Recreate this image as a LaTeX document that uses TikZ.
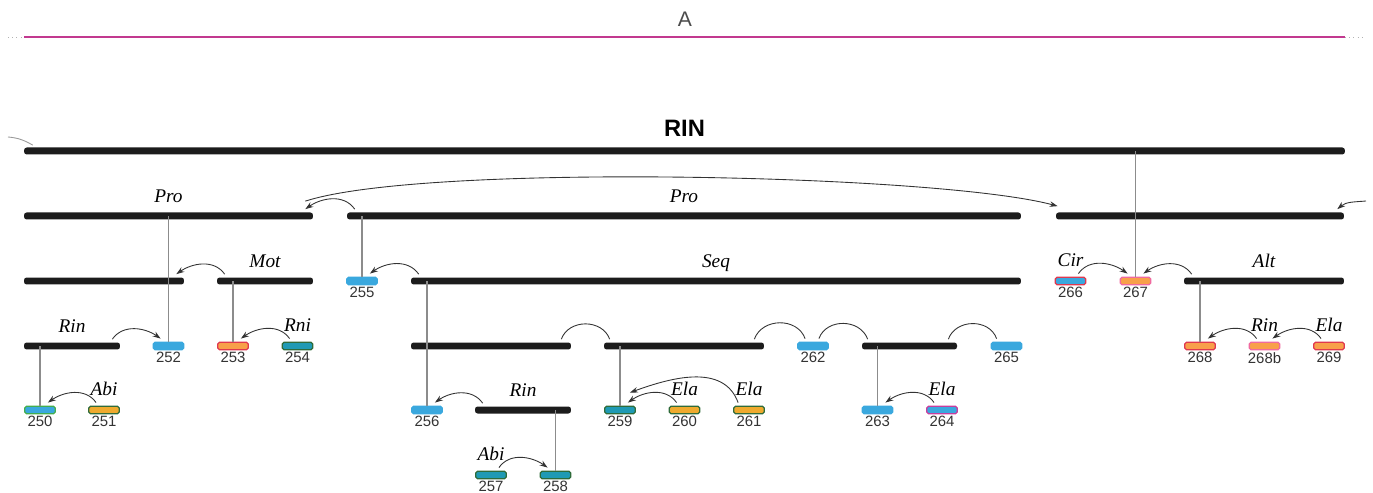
\documentclass[tikz,border=0pt]{standalone}
\usepackage{fontspec}
\setmainfont{Liberation Serif}
\setsansfont{Liberation Sans}
\usepackage{tikz}
\usetikzlibrary{arrows.meta}
\usepackage{xcolor}

\definecolor{barc}{HTML}{1C1C1C}
\definecolor{skyb}{HTML}{3AA8DE}
\definecolor{gold}{HTML}{EFAA2E}
\definecolor{orng}{HTML}{F8A04A}
\definecolor{tealb}{HTML}{1F9AB4}
\definecolor{grn}{HTML}{43AD4E}
\definecolor{dgrn}{HTML}{2F6B3A}
\definecolor{redb}{HTML}{E0384F}
\definecolor{pnkb}{HTML}{F06AA0}
\definecolor{magb}{HTML}{C83D9E}
\definecolor{secl}{HTML}{C2398F}

\begin{document}
\begin{tikzpicture}[x=0.02cm,y=0.02cm,>={Stealth[length=1.6mm,width=1.1mm]},
  label distance=0pt,
  bar/.style={fill=barc,inner sep=0pt,minimum height=0.14cm,rounded corners=1.5pt},
  box/.style={rounded corners=1pt,inner sep=0pt,minimum width=0.61cm,minimum height=0.15cm,line width=0.75pt},
  lab/.style={font=\itshape\fontsize{11}{13}\selectfont,inner sep=5.5pt,text depth=0pt},
  num/.style={font=\sffamily\fontsize{8.5}{10}\selectfont,text=black!80,inner sep=1pt},
  arc/.style={draw=black!80,line width=0.5pt},
  hopw/.style={arc,->,out=125,in=35},
  hope/.style={arc,->,out=55,in=145},
  hump/.style={arc,out=70,in=110,looseness=1.15},
  stem/.style={draw=black!45,line width=0.6pt}]
\useasboundingbox (0,0) rectangle (1373,-493);

% section header
\node[font=\sffamily\fontsize{12}{14}\selectfont,text=black!70] (sec) at (685,-19) {A};
\draw[secl,line width=1.4pt] (24,-37) -- (1345,-37);
\draw[black!30,dotted] (8,-37) -- (24,-37) (1345,-37) -- (1366,-37);

% bars
\node[bar,minimum width=26.42cm,label={[font=\sffamily\bfseries\fontsize{13.5}{16}\selectfont,inner sep=6pt]above:RIN}] (rin) at (684.5,-151) {};
\node[bar,minimum width=5.78cm,label={[lab]above:Pro}] (pro1) at (168.5,-216) {};
\node[bar,minimum width=13.48cm,label={[lab]above:Pro}] (pro2) at (684,-216) {};
\node[bar,minimum width=5.76cm] (pro3) at (1200,-216) {};
\node[bar,minimum width=3.2cm] (lft) at (104,-281) {};
\node[bar,minimum width=1.92cm,label={[lab]above:Mot}] (mot) at (265,-281) {};
\node[bar,minimum width=12.2cm,label={[lab]above:Seq}] (seq) at (716,-281) {};
\node[bar,minimum width=3.2cm,label={[lab]above:Alt}] (alt) at (1264,-281) {};
\node[bar,minimum width=1.92cm,label={[lab]above:Rin}] (rin2) at (72,-346) {};
\node[bar,minimum width=3.2cm] (s1) at (491,-346) {};
\node[bar,minimum width=3.2cm] (s2) at (684,-346) {};
\node[bar,minimum width=1.9cm] (s3) at (909.5,-346) {};
\node[bar,minimum width=1.92cm,label={[lab]above:Rin}] (rin3) at (523,-410) {};

% boxes
\node[box,fill=skyb,draw=skyb,label={[num]below:255}] (b255) at (362,-281) {};
\node[box,fill=skyb,draw=redb,label={[num]below:266},label={[lab]above:Cir}] (b266) at (1070.5,-281) {};
\node[box,fill=orng,draw=pnkb,label={[num]below:267}] (b267) at (1135.5,-281) {};
\node[box,fill=skyb,draw=skyb,label={[num]below:252}] (b252) at (168.5,-346) {};
\node[box,fill=orng,draw=redb,label={[num]below:253}] (b253) at (233,-346) {};
\node[box,fill=tealb,draw=dgrn,label={[num]below:254},label={[lab]above:Rni}] (b254) at (297.5,-346) {};
\node[box,fill=skyb,draw=skyb,label={[num]below:262}] (b262) at (813,-346) {};
\node[box,fill=skyb,draw=skyb,label={[num]below:265}] (b265) at (1006.5,-346) {};
\node[box,fill=orng,draw=redb,label={[num]below:268}] (b268) at (1200,-346) {};
\node[box,fill=orng,draw=pnkb,label={[num]below:268b},label={[lab]above:Rin}] (b268b) at (1264.5,-346) {};
\node[box,fill=orng,draw=redb,label={[num]below:269},label={[lab]above:Ela}] (b269) at (1329,-346) {};
\node[box,fill=skyb,draw=grn,label={[num]below:250}] (b250) at (40,-410) {};
\node[box,fill=gold,draw=dgrn,label={[num]below:251},label={[lab]above:Abi}] (b251) at (104,-410) {};
\node[box,fill=skyb,draw=skyb,label={[num]below:256}] (b256) at (427,-410) {};
\node[box,fill=tealb,draw=dgrn,label={[num]below:259}] (b259) at (620,-410) {};
\node[box,fill=gold,draw=dgrn,label={[num]below:260},label={[lab]above:Ela}] (b260) at (684.5,-410) {};
\node[box,fill=gold,draw=dgrn,label={[num]below:261},label={[lab]above:Ela}] (b261) at (749,-410) {};
\node[box,fill=skyb,draw=skyb,label={[num]below:263}] (b263) at (877.5,-410) {};
\node[box,fill=skyb,draw=magb,label={[num]below:264},label={[lab]above:Ela}] (b264) at (942,-410) {};
\node[box,fill=tealb,draw=dgrn,label={[num]below:257},label={[lab]above:Abi}] (b257) at (491,-475) {};
\node[box,fill=tealb,draw=dgrn,label={[num]below:258}] (b258) at (555.5,-475) {};

% stems
\draw[stem] (b267.north) -- (b267.north |- rin.center);
\draw[stem] (b252.north) -- (b252.north |- pro1.center);
\draw[stem] (b255.north) -- (b255.north |- pro2.center);
\draw[stem] (b253.north) -- (b253.north |- mot.center);
\draw[stem] (b256.north) -- (b256.north |- seq.center);
\draw[stem] (b268.north) -- (b268.north |- alt.center);
\draw[stem] (b250.north) -- (b250.north |- rin2.center);
\draw[stem] (b259.north) -- (b259.north |- s2.center);
\draw[stem] (b263.north) -- (b263.north |- s3.center);
\draw[stem] (b258.north) -- (b258.north |- rin3.center);

% incoming from outside
\coordinate (inL) at (8,-137);
\coordinate (inR) at (1366,-201);
\draw[arc,draw=black!40] (inL) to[out=-5,in=150] ([shift={(9,2)}]rin.north west);
\draw[arc,->] (inR) to[out=185,in=40] ([shift={(-7,3)}]pro3.north east);
\draw[arc,->] ([shift={(-8,11)}]pro1.north east) to[out=18,in=165,looseness=0.42] ([shift={(2,6)}]pro3.north west);

% hops
\draw[hopw] ([shift={(8,3)}]pro2.north west) to ([shift={(-8,3)}]pro1.north east);
\draw[hopw] ([shift={(8,3)}]mot.north west) to ([shift={(-8,3)}]lft.north east);
\draw[hopw] ([shift={(8,3)}]seq.north west) to ([shift={(-8,3)}]b255.north east);
\draw[hopw] ([shift={(8,3)}]alt.north west) to ([shift={(-8,3)}]b267.north east);
\draw[hope] ([shift={(-8,3)}]b266.north east) to ([shift={(8,3)}]b267.north west);
\draw[hope] ([shift={(-8,3)}]rin2.north east) to ([shift={(8,3)}]b252.north west);
\draw[hopw] ([shift={(8,3)}]b254.north west) to ([shift={(-8,3)}]b253.north east);
\draw[hopw] ([shift={(8,3)}]b268b.north west) to ([shift={(-8,3)}]b268.north east);
\draw[hopw] ([shift={(8,3)}]b269.north west) to ([shift={(-8,3)}]b268b.north east);
\draw[hopw] ([shift={(8,3)}]b251.north west) to ([shift={(-8,3)}]b250.north east);
\draw[hopw] ([shift={(8,3)}]rin3.north west) to ([shift={(-8,3)}]b256.north east);
\draw[hopw] ([shift={(8,3)}]b260.north west) to ([shift={(-8,3)}]b259.north east);
\draw[arc,->] ([shift={(5,3)}]b261.north west) to[out=110,in=20] ([shift={(-6,13)}]b259.north east);
\draw[hopw] ([shift={(8,3)}]b264.north west) to ([shift={(-8,3)}]b263.north east);
\draw[hope] ([shift={(-8,3)}]b257.north east) to ([shift={(8,3)}]b258.north west);

% humps between siblings
\draw[hump] ([shift={(-10,3)}]s1.north east) to ([shift={(6,3)}]s2.north west);
\draw[hump] ([shift={(-10,3)}]s2.north east) to ([shift={(8,3)}]b262.north west);
\draw[hump] ([shift={(-10,3)}]b262.north east) to ([shift={(6,3)}]s3.north west);
\draw[hump] ([shift={(-9,3)}]s3.north east) to ([shift={(6,3)}]b265.north west);
\end{tikzpicture}
\end{document}
